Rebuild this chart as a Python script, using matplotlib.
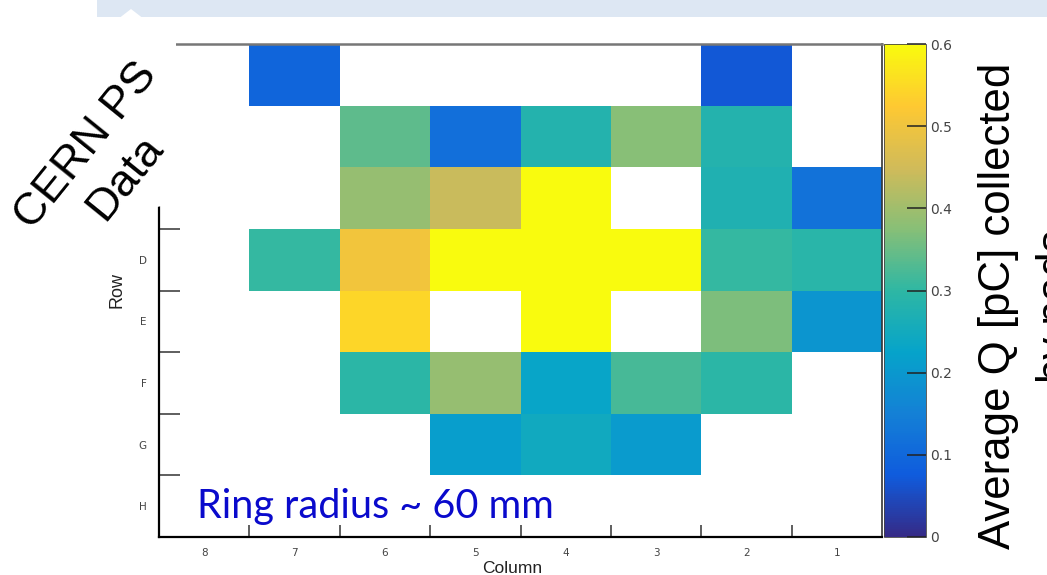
import numpy as np
import matplotlib.pyplot as plt
from matplotlib.colors import LinearSegmentedColormap
from matplotlib.patches import Polygon, Rectangle

W, H = 1047, 575

columns = ['8', '7', '6', '5', '4', '3', '2', '1']
rows = ['A', 'B', 'C', 'D', 'E', 'F', 'G', 'H']
nan = np.nan
# average charge per pad [pC], one list per row, columns 8 -> 1
row_A = [nan, 0.095, nan, nan, nan, nan, 0.07, nan]
row_B = [nan, nan, 0.34, 0.115, 0.28, 0.375, 0.28, nan]
row_C = [nan, nan, 0.39, 0.44, 0.65, nan, 0.275, 0.12]
row_D = [nan, 0.305, 0.505, 0.65, 0.65, 0.65, 0.305, 0.29]
row_E = [nan, nan, 0.545, nan, 0.65, nan, 0.365, 0.195]
row_F = [nan, nan, 0.295, 0.39, 0.23, 0.32, 0.295, nan]
row_G = [nan, nan, nan, 0.213, 0.245, 0.205, nan, nan]
row_H = [nan, nan, nan, nan, nan, nan, nan, nan]
cbar_ticks = [0, 0.1, 0.2, 0.3, 0.4, 0.5, 0.6]
cbar_labels = ['0', '0.1', '0.2', '0.3', '0.4', '0.5', '0.6']

# ROOT kBird palette
stops = [0.0, 0.125, 0.25, 0.375, 0.5, 0.625, 0.75, 0.875, 1.0]
red = [0.2082, 0.0592, 0.0780, 0.0232, 0.1802, 0.5301, 0.8186, 0.9956, 0.9764]
green = [0.1664, 0.3599, 0.5041, 0.6419, 0.7178, 0.7492, 0.7328, 0.7862, 0.9832]
blue = [0.5293, 0.8684, 0.8385, 0.7914, 0.6425, 0.4662, 0.3499, 0.1968, 0.0539]
bird = LinearSegmentedColormap.from_list('bird', list(zip(stops, zip(red, green, blue))), N=255)


def fx(x):
    return x / W


def fy(y):
    return 1 - y / H


fig = plt.figure(figsize=(W / 100, H / 100), dpi=100)

ax = fig.add_axes([fx(159), fy(537), (882 - 159) / W, (537 - 44) / H])
z = np.ma.masked_invalid(np.array([row_A, row_B, row_C, row_D, row_E, row_F, row_G, row_H]))
mesh = ax.pcolormesh(np.arange(9), np.arange(9), z, cmap=bird, vmin=0, vmax=0.6)
ax.set_xlim(0, 8)
ax.set_ylim(8, 0)

ax.set_xticks(np.arange(1, 8))
ax.set_xticklabels([])
ax.set_xticks(np.arange(8) + 0.5, minor=True)
ax.set_xticklabels(columns, minor=True)
ax.set_yticks(np.arange(1, 8))
ax.set_yticklabels([])
ax.set_yticks(np.arange(8) + 0.5, minor=True)
ax.set_yticklabels(rows, minor=True)
ax.tick_params(axis='x', which='major', direction='in', length=9, width=1.1, color='#333333')
ax.tick_params(axis='y', which='major', direction='in', length=15, width=1.1, color='#333333')
ax.tick_params(which='minor', length=0, labelsize=7.5, labelcolor='#444444')
ax.tick_params(axis='x', which='minor', pad=8)
ax.tick_params(axis='y', which='minor', pad=9)

ax.spines['left'].set_linewidth(1.6)
ax.spines['bottom'].set_linewidth(1.6)
ax.spines['top'].set_color('#777777')
ax.spines['top'].set_linewidth(1.8)
ax.spines['right'].set_color('#333333')
ax.spines['right'].set_linewidth(1.2)

fig.text(fx(117), fy(290), 'Row', rotation=90, ha='center', va='center',
         fontsize=13, color='#222222', family='Liberation Sans')
fig.text(fx(512), fy(573), 'Column', ha='center', va='baseline',
         fontsize=12.5, color='#222222', family='Liberation Sans')

cax = fig.add_axes([fx(884), fy(537), (926 - 884) / W, (537 - 44) / H])
cb = fig.colorbar(mesh, cax=cax, ticks=cbar_ticks)
cb.set_ticklabels(cbar_labels)
cb.outline.set_linewidth(0.6)
cb.outline.set_edgecolor('#444444')
cax.tick_params(direction='in', length=14, width=1.1, color='#222222',
                labelsize=10, labelcolor='#444444', pad=3)

sans = 'Liberation Sans'
fig.text(fx(1010), fy(306), 'Average Q [pC] collected', rotation=90,
         rotation_mode='anchor', ha='center', va='baseline', fontsize=31.5, family=sans)
fig.text(fx(1068), fy(306), 'by pads', rotation=90,
         rotation_mode='anchor', ha='center', va='baseline', fontsize=31.5, family=sans)

# slide decorations
fig.add_artist(Rectangle((fx(97), fy(17)), (W - 97) / W, 17 / H, transform=fig.transFigure,
                         facecolor='#dde7f3', edgecolor='none', zorder=5))
fig.add_artist(Polygon([(fx(120), fy(17.5)), (fx(131), fy(9)), (fx(142), fy(17.5))],
                       closed=True, transform=fig.transFigure, facecolor='white',
                       edgecolor='none', zorder=5))
cover = [(95, 20), (176, 20), (176, 47), (192, 60), (192, 200), (157, 207), (95, 207)]
fig.add_artist(Polygon([(fx(a), fy(b)) for a, b in cover], closed=True,
                       transform=fig.transFigure, facecolor='white', edgecolor='none', zorder=5))

fig.text(fx(106), fy(162), 'CERN PS\nData', rotation=51, rotation_mode='anchor',
         ha='center', va='center', multialignment='center', linespacing=1.3,
         fontsize=32.5, family=sans, zorder=6)
fig.text(fx(197), fy(518), 'Ring radius ~ 60 mm', ha='left', va='baseline',
         fontsize=28.5, color='#0a0acc', family='Lato', zorder=6)

fig.savefig('out.png', dpi=100)
